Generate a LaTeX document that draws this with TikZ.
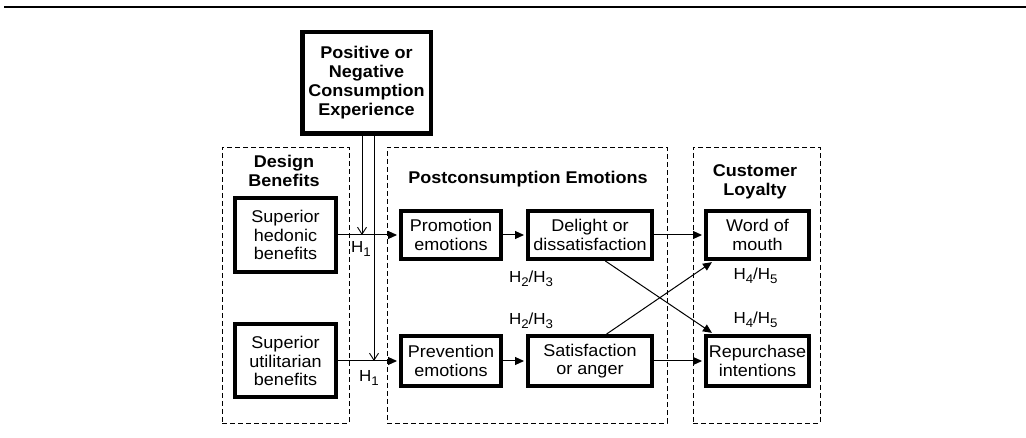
\documentclass[tikz,border=0pt]{standalone}
\usepackage{fontspec}
\setmainfont{Liberation Sans}[FakeStretch=1.06]
\usetikzlibrary{arrows.meta,calc}
% lowered subscript at a readable size
\newcommand\hsub[1]{\raisebox{-4pt}{\fontsize{12.5}{12.5}\selectfont #1}}

\begin{document}
\begin{tikzpicture}[x=1pt,y=-1pt,
  txt/.style={font=\fontsize{17}{18.7}\selectfont, align=center, inner sep=0pt},
  hdr/.style={font=\bfseries\fontsize{17}{19.5}\selectfont, align=center, inner sep=0pt},
  box/.style={draw, line width=4pt, txt},
  grp/.style={draw, line width=0.9pt, dash pattern=on 5pt off 3pt, inner sep=0pt},
  lnk/.style={line width=1pt, shorten >=2pt, -{Triangle[length=9pt,width=8pt]}},
  drop/.style={line width=1pt, -{Straight Barb[length=7pt,width=9pt,line width=0.9pt]}},
  hyp/.style={font=\fontsize{16}{18}\selectfont, inner sep=0pt}]
\useasboundingbox (0,0) rectangle (1026,438);

% rule across the top
\draw[line width=2pt] (4,7.5) -- (1026,7.5);

% dashed groups
\node[grp, minimum width=127, minimum height=276] (gD) at (285.5,285) {};
\node[grp, minimum width=280, minimum height=276] (gP) at (527,285) {};
\node[grp, minimum width=127, minimum height=276] (gL) at (756.5,285) {};

\node[hdr] (hD) at (284,171) {Design\\Benefits};
\node[hdr] (hP) at (528,179) {Postconsumption Emotions};
\node[hdr] (hL) at (755,182) {Customer\\Loyalty};

% experience box
\node[box, line width=4.5pt, minimum width=128.5, minimum height=101.5,
      font=\bfseries\fontsize{17}{19}\selectfont] (exp) at (366.5,83)
  {Positive or\\Negative\\Consumption\\Experience};

% construct boxes
\node[box, minimum width=101, minimum height=74] (hed) at (285.5,235) {Superior\\hedonic\\benefits};
\node[box, minimum width=101, minimum height=73] (util) at (285.5,361) {Superior\\utilitarian\\benefits};
\node[box, minimum width=100, minimum height=48] (prom) at (451,235) {Promotion\\emotions};
\node[box, minimum width=124, minimum height=48] (del) at (590,235) {Delight or\\dissatisfaction};
\node[box, minimum width=100, minimum height=50] (prev) at (451,361) {Prevention\\emotions};
\node[box, minimum width=124, minimum height=50] (sat) at (590,361) {Satisfaction\\or anger};
\node[box, minimum width=103, minimum height=48] (wom) at (757.5,235) {Word of\\mouth};
\node[box, minimum width=103, minimum height=50] (rep) at (757.5,361) {Repurchase\\intentions};

% moderating lines from the experience box
\coordinate (d1) at (362,235);
\coordinate (d2) at (374,361);
\draw[drop] (exp.south -| d1) -- (d1);
\draw[drop] (exp.south -| d2) -- (d2);

% main paths
\draw[lnk] (hed.east) -- (prom.west);
\draw[lnk] (util.east) -- (prev.west);
\draw[lnk] (prom.east) -- (del.west);
\draw[lnk] (prev.east) -- (sat.west);
\draw[lnk] (del.east) -- (wom.west);
\draw[lnk] (sat.east) -- (rep.west);
\draw[lnk] ($(del.south west)!0.62!(del.south east)$) -- ($(rep.north west)!0.09!(rep.north east)$);
\draw[lnk] ($(sat.north west)!0.63!(sat.north east)$) -- ($(wom.south west)!0.09!(wom.south east)$);

% hypothesis labels
\node[hyp] (h1a) at (361,249) {H\hsub{1}};
\node[hyp] (h1b) at (369,378) {H\hsub{1}};
\node[hyp] (h23a) at (531,279) {H\hsub{2}/H\hsub{3}};
\node[hyp] (h23b) at (531,321) {H\hsub{2}/H\hsub{3}};
\node[hyp] (h45a) at (755.5,276) {H\hsub{4}/H\hsub{5}};
\node[hyp] (h45b) at (755.5,320) {H\hsub{4}/H\hsub{5}};
\end{tikzpicture}
\end{document}
